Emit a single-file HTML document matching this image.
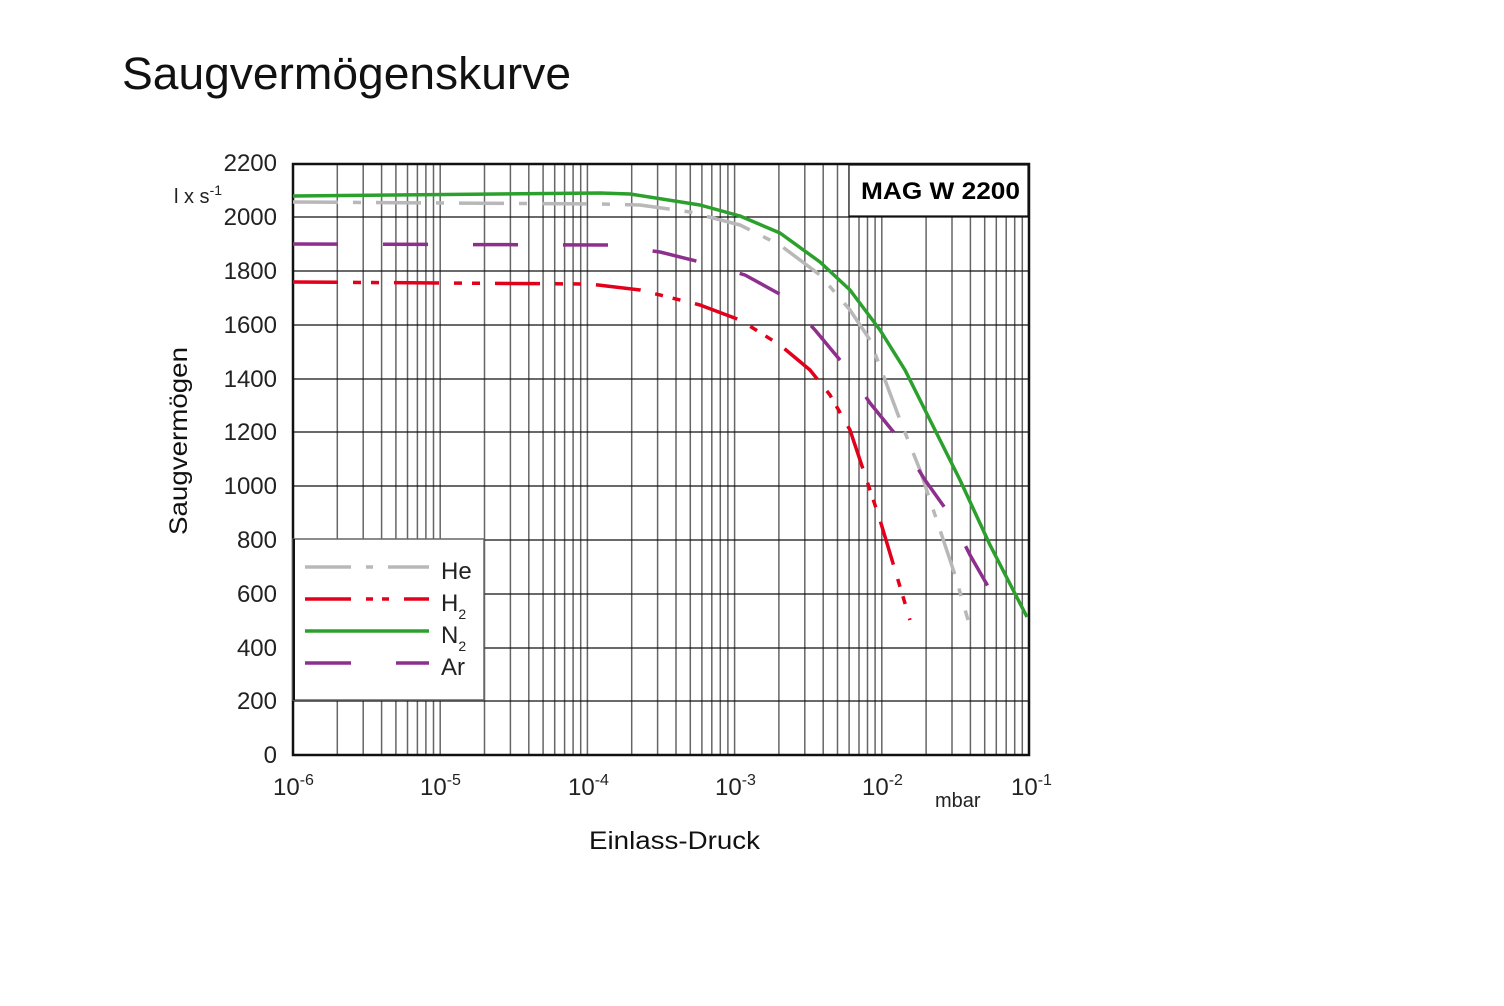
<!DOCTYPE html>
<html><head><meta charset="utf-8"><style>
body{margin:0;background:#fff}
svg{display:block;font-family:"Liberation Sans",Arial,sans-serif}
</style></head><body>
<svg width="1504" height="1006" viewBox="0 0 1504 1006">
<rect width="1504" height="1006" fill="#fff"/>
<text x="122" y="89" font-size="45" fill="#111" textLength="449" lengthAdjust="spacingAndGlyphs">Saugvermögenskurve</text>
<defs>
<g id="dec">
<line x1="44.3" y1="164" x2="44.3" y2="755"/>
<line x1="70.2" y1="164" x2="70.2" y2="755"/>
<line x1="88.6" y1="164" x2="88.6" y2="755"/>
<line x1="102.9" y1="164" x2="102.9" y2="755"/>
<line x1="114.5" y1="164" x2="114.5" y2="755"/>
<line x1="124.4" y1="164" x2="124.4" y2="755"/>
<line x1="132.9" y1="164" x2="132.9" y2="755"/>
<line x1="140.5" y1="164" x2="140.5" y2="755"/>
<line x1="147.2" y1="164" x2="147.2" y2="755"/>
</g>
</defs>
<g stroke="#666" stroke-width="1.5">
<use href="#dec" x="293"/>
<use href="#dec" x="440.2"/>
<use href="#dec" x="587.4"/>
<use href="#dec" x="734.6"/>
<use href="#dec" x="881.8"/>
</g>
<g stroke="#111" stroke-width="1.2">
<line x1="293" y1="217" x2="1029" y2="217"/>
<line x1="293" y1="271" x2="1029" y2="271"/>
<line x1="293" y1="325" x2="1029" y2="325"/>
<line x1="293" y1="379" x2="1029" y2="379"/>
<line x1="293" y1="432" x2="1029" y2="432"/>
<line x1="293" y1="486" x2="1029" y2="486"/>
<line x1="293" y1="540" x2="1029" y2="540"/>
<line x1="293" y1="594" x2="1029" y2="594"/>
<line x1="293" y1="648" x2="1029" y2="648"/>
<line x1="293" y1="701" x2="1029" y2="701"/>
</g>
<rect x="849" y="165" width="179" height="51" fill="#fff" stroke="#111" stroke-width="1.2"/>
<text x="861" y="199" font-size="24" font-weight="bold" fill="#000" textLength="159" lengthAdjust="spacingAndGlyphs">MAG W 2200</text>
<rect x="293" y="164" width="736" height="591" fill="none" stroke="#111" stroke-width="2.5"/>
<g fill="none" stroke-width="3.5" stroke-linejoin="round">
<polyline stroke="#b8b8b8" stroke-dasharray="45,15,8,15" points="293,202 600,204 640,205 690,212 740,225 780,245 820,275 850,310 870,340 885,380 900,420 920,470 940,530 955,575 968,620"/>
<polyline stroke="#8e2f8e" stroke-dasharray="45,45" points="293,244 610,245 660,252 700,262 745,275 785,297 815,330 845,366 870,403 900,440 925,480 950,515 970,555 993,595"/>
<polyline stroke="#e2001a" stroke-dasharray="45,15,8,10,8,15" points="293,282 590,284 640,290 700,305 740,320 780,345 810,370 830,395 850,430 865,475 880,520 895,570 910,620"/>
<polyline stroke="#2ca02c" points="293,196 600,193 630,194 700,205 740,216 780,233 820,262 850,290 880,330 905,370 930,420 960,480 990,545 1027,617"/>
</g>
<rect x="293" y="539" width="191" height="161" fill="#fff" stroke="#666" stroke-width="1.5"/>
<rect x="293" y="539" width="2" height="161" fill="#111"/>
<g stroke-width="3.5">
<line x1="305" y1="567" x2="351" y2="567" stroke="#b8b8b8"/><line x1="366" y1="567" x2="373" y2="567" stroke="#b8b8b8"/><line x1="388" y1="567" x2="429" y2="567" stroke="#b8b8b8"/>
<line x1="305" y1="599" x2="351" y2="599" stroke="#e2001a"/><line x1="366" y1="599" x2="373" y2="599" stroke="#e2001a"/><line x1="382" y1="599" x2="389" y2="599" stroke="#e2001a"/><line x1="404" y1="599" x2="429" y2="599" stroke="#e2001a"/>
<line x1="305" y1="631" x2="429" y2="631" stroke="#2ca02c"/>
<line x1="305" y1="663" x2="351" y2="663" stroke="#8e2f8e"/><line x1="396" y1="663" x2="429" y2="663" stroke="#8e2f8e"/>
</g>
<g font-size="24" fill="#222">
<text x="441" y="579">He</text>
<text x="441" y="611">H<tspan font-size="14" dy="8">2</tspan></text>
<text x="441" y="643">N<tspan font-size="14" dy="8">2</tspan></text>
<text x="441" y="675">Ar</text>
</g>
<g font-size="24" fill="#222" text-anchor="end">
<text x="277" y="171">2200</text>
<text x="277" y="225">2000</text>
<text x="277" y="279">1800</text>
<text x="277" y="333">1600</text>
<text x="277" y="387">1400</text>
<text x="277" y="440">1200</text>
<text x="277" y="494">1000</text>
<text x="277" y="548">800</text>
<text x="277" y="602">600</text>
<text x="277" y="656">400</text>
<text x="277" y="709">200</text>
<text x="277" y="763">0</text>
</g>
<text x="174" y="203" font-size="20" fill="#222">l x s<tspan font-size="14" dy="-8">-1</tspan></text>
<g font-size="24" fill="#222">
<text x="273" y="795">10<tspan font-size="16" dy="-10">-6</tspan></text>
<text x="420" y="795">10<tspan font-size="16" dy="-10">-5</tspan></text>
<text x="568" y="795">10<tspan font-size="16" dy="-10">-4</tspan></text>
<text x="715" y="795">10<tspan font-size="16" dy="-10">-3</tspan></text>
<text x="862" y="795">10<tspan font-size="16" dy="-10">-2</tspan></text>
<text x="1011" y="795">10<tspan font-size="16" dy="-10">-1</tspan></text>
</g>
<text x="935" y="807" font-size="20" fill="#222">mbar</text>
<text x="589" y="849" font-size="25" fill="#111" textLength="171" lengthAdjust="spacingAndGlyphs">Einlass-Druck</text>
<text transform="translate(187,535) rotate(-90)" font-size="25" fill="#111" textLength="188" lengthAdjust="spacingAndGlyphs">Saugvermögen</text>
</svg>
</body></html>
